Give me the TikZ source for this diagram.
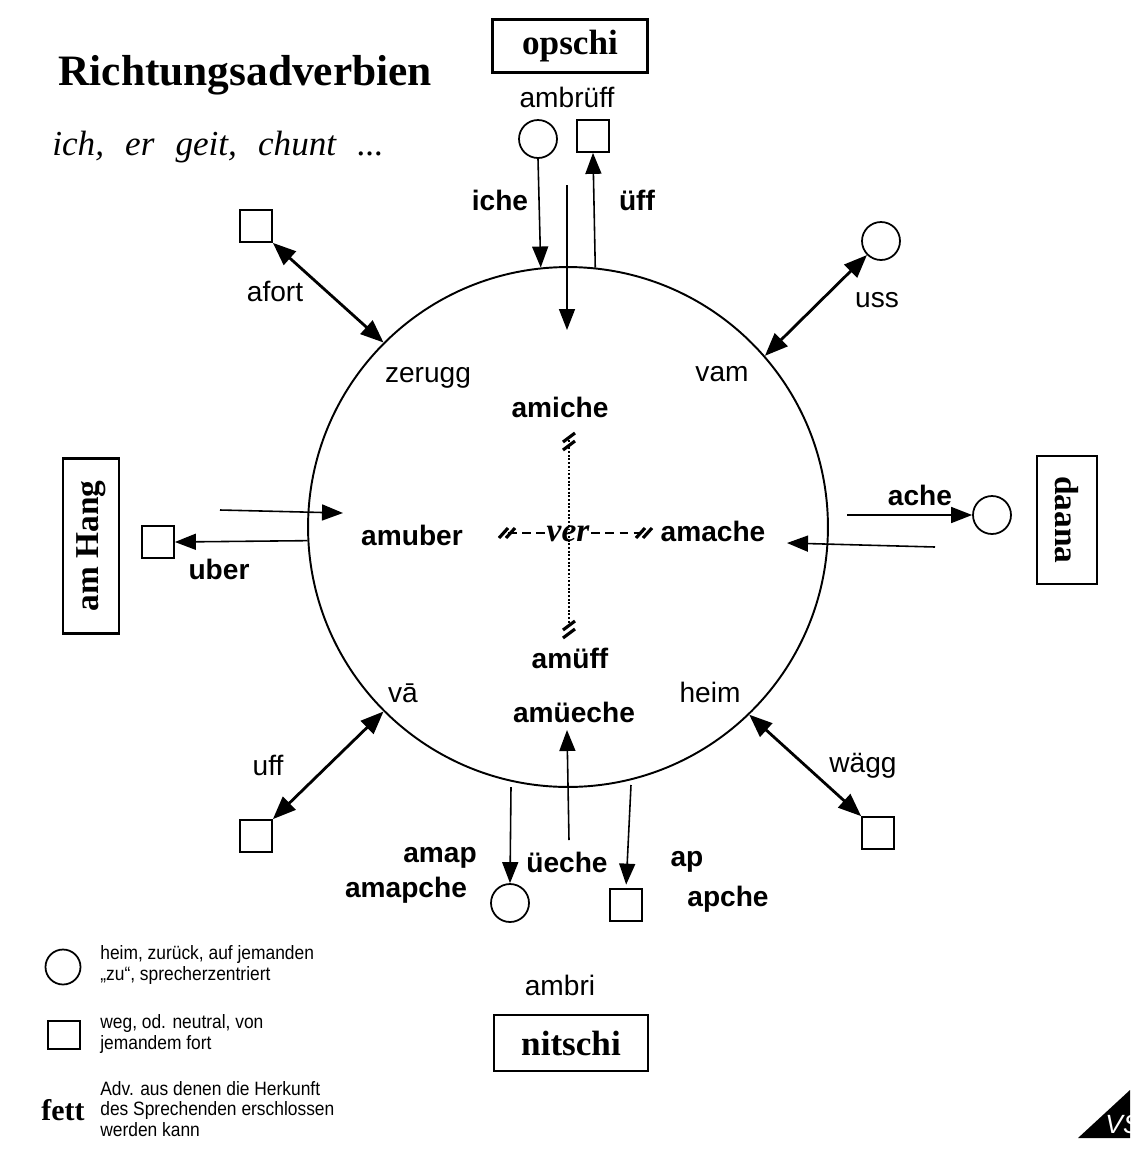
\documentclass[tikz,border=0pt]{standalone}
\usepackage{fontspec}
\setmainfont{Liberation Serif}
\setsansfont{Liberation Sans}
\newfontfamily\legendfont[FakeStretch=0.9]{Liberation Sans}
\usetikzlibrary{arrows.meta,calc}

\tikzset{
  lbl/.style={font=\sffamily\fontsize{16}{18}\selectfont},
  blbl/.style={font=\sffamily\bfseries\fontsize{16}{18}\selectfont},
  place/.style={draw,line width=1.2pt,inner sep=0pt,font=\bfseries\fontsize{20}{22}\selectfont},
  endc/.style={circle,draw,line width=1pt,minimum size=0.76cm,inner sep=0pt},
  ends/.style={rectangle,draw,line width=1pt,minimum size=0.64cm,inner sep=0pt},
  arr/.style={-{Triangle[length=0.42cm,width=0.32cm]},line width=0.9pt},
  darr/.style={{Triangle[length=0.46cm,width=0.36cm]}-{Triangle[length=0.46cm,width=0.36cm]},line width=1.6pt},
  legtext/.style={anchor=west,align=left,inner sep=0pt,font=\legendfont\fontsize{11}{11.6}\selectfont},
  hatch/.style={line width=1.8pt},
}

\begin{document}
\begin{tikzpicture}[x=0.02cm,y=-0.02cm]
  \useasboundingbox (0,0) rectangle (1141,1157);

  % title
  \node[anchor=base west,inner sep=0pt,font=\bfseries\fontsize{24.7}{26}\selectfont] (title) at (58,85) {Richtungsadverbien};
  \node[anchor=base west,inner sep=0pt,font=\itshape\fontsize{20}{22}\selectfont] (subtitle) at (52,155)
    {ich,\hspace{0.6em}er\hspace{0.6em}geit,\hspace{0.6em}chunt\hspace{0.6em}...};

  % the circle
  \node[circle,draw,line width=1.1pt,minimum size=10.4cm,inner sep=0pt] (ring) at (568,527) {};

  % places
  \node[place,minimum width=3.1cm,minimum height=1.06cm] (opschi) at (570,46) {opschi};
  \node[place,minimum width=3.08cm,minimum height=1.12cm] (nitschi) at (571,1043) {nitschi};
  \node[place,minimum width=3.5cm,minimum height=1.12cm,rotate=90,font=\bfseries\fontsize{19}{21}\selectfont] (hang) at (91,546) {am Hang};
  \node[place,minimum width=2.56cm,minimum height=1.2cm,rotate=-90,font=\bfseries\fontsize{19}{21}\selectfont] (daana) at (1067,520) {daana};

  % ends
  \node[endc] (cTop) at (538,139) {};
  \node[ends] (sqTop) at (593,136) {};
  \node[ends] (sqNW) at (256,226) {};
  \node[endc] (cNE) at (881,241) {};
  \node[ends] (sqL) at (158,542) {};
  \node[endc] (cR) at (992,515) {};
  \node[ends] (sqSW) at (256,836) {};
  \node[ends] (sqSE) at (878,833) {};
  \node[endc] (cBot) at (510,903) {};
  \node[ends] (sqBot) at (626,905) {};

  % labels outside
  \node[lbl] (ambrueff) at (567,97) {ambrüff};
  \node[blbl] (iche) at (500,200) {iche};
  \node[blbl] (ueff) at (637,200) {üff};
  \node[lbl] (afort) at (275,291) {afort};
  \node[lbl] (uss) at (877,300) {uss};
  \node[blbl] (uber) at (219,569) {uber};
  \node[blbl] (ache) at (920,495) {ache};
  \node[lbl] (uff) at (268,765) {uff};
  \node[lbl] (waegg) at (863,766) {wägg};
  \node[blbl] (amap) at (440,858) {amap};
  \node[blbl] (amapche) at (406,890) {amapche};
  \node[blbl] (ueeche) at (567,862) {üeche};
  \node[blbl] (ap) at (687,862) {ap};
  \node[blbl] (apche) at (728,899) {apche};
  \node[lbl] (ambri) at (560,985) {ambri};

  % labels inside
  \node[lbl] (zerugg) at (428,378) {zerugg};
  \node[lbl] (vam) at (722,374) {vam};
  \node[blbl] (amiche) at (560,407) {amiche};
  \node[blbl] (amuber) at (412,535) {amuber};
  \node[blbl] (amache) at (713,531) {amache};
  \node[blbl] (amueff) at (570,658) {amüff};
  \node[lbl] (vaa) at (403,693) {vā};
  \node[lbl] (heim) at (710,692) {heim};
  \node[blbl] (amueeche) at (574,712) {amüeche};

  % ver cross
  \coordinate (vt) at (569,440);
  \coordinate (vb) at (569,628);
  \coordinate (hl) at (508,533);
  \coordinate (hr) at (645,533);
  \node[anchor=base,inner sep=1pt,font=\bfseries\itshape\fontsize{19}{21}\selectfont] (ver) at (568,541) {ver};
  \draw[dashed,line width=1.1pt,dash pattern=on 5pt off 3pt] (hl) -- (hl -| ver.west) (hr -| ver.east) -- (hr);
  \draw[densely dotted,line width=1.1pt] (vt) -- (vb);
  \foreach \p in {vt,vb} {
    \draw[hatch] ($(\p)+(-6,2)$) -- ++(12,-9) ($(\p)+(-6,10)$) -- ++(12,-9);
  }
  \foreach \p in {hl,hr} {
    \draw[hatch] ($(\p)+(-9,5)$) -- ++(9,-10) ($(\p)+(-2,5)$) -- ++(9,-10);
  }

  % connectors
  \draw[arr] (cTop.south) -- (ring.96);
  \draw[arr] (ring.84) -- (sqTop.south);
  \coordinate (vin) at (567,185);
  \coordinate (vtip) at (567,330);
  \draw[arr] (vin) -- (vtip);

  \draw[darr] (sqNW.south east) -- (ring.135);
  \draw[darr] (cNE.225) -- (ring.41);
  \draw[darr] (sqSW.north east) -- (ring.225);
  \draw[darr] (sqSE.north west) -- (ring.314);

  \coordinate (lin) at (220,510);
  \coordinate (ltip) at (343,513);
  \draw[arr] (lin) -- (ltip);
  \draw[arr] (ring.183) -- (sqL.east);

  \coordinate (rout) at (847,515);
  \draw[arr] (rout) -- (cR.west);
  \coordinate (rin) at (935,547);
  \coordinate (rtip) at (787,543);
  \draw[arr] (rin) -- (rtip);

  \coordinate (bl) at (511,787);
  \draw[arr] (bl) -- (cBot.north);
  \coordinate (bm) at (569,840);
  \coordinate (bmtip) at (567,730);
  \draw[arr] (bm) -- (bmtip);
  \coordinate (br) at (631,785);
  \draw[arr,shorten >=2pt] (br) -- (sqBot.north);

  % legend
  \node[circle,draw,line width=1pt,minimum width=0.68cm,minimum height=0.7cm,inner sep=0pt] (legc) at (63,967) {};
  \node[legtext] (legctext) at (100,965) {heim, zurück, auf jemanden\\„zu“, sprecherzentriert};
  \node[rectangle,draw,line width=1pt,minimum width=0.64cm,minimum height=0.56cm,inner sep=0pt] (legs) at (64,1035) {};
  \node[legtext] (legstext) at (100,1034) {weg, od. neutral, von\\jemandem fort};
  \node[font=\bfseries\fontsize{17}{19}\selectfont] (fett) at (63,1110) {fett};
  \node[legtext] (fetttext) at (100,1109) {Adv. aus denen die Herkunft\\des Sprechenden erschlossen\\werden kann};

  % corner mark
  \fill (1078,1138) -- (1130,1090) -- (1130,1138) -- cycle;
  \begin{scope}
    \clip (1078,1138) -- (1130,1090) -- (1130,1138) -- cycle;
    \node[text=white,font=\sffamily\itshape\fontsize{15}{17}\selectfont] (vs) at (1123,1124) {VS};
  \end{scope}
\end{tikzpicture}
\end{document}
